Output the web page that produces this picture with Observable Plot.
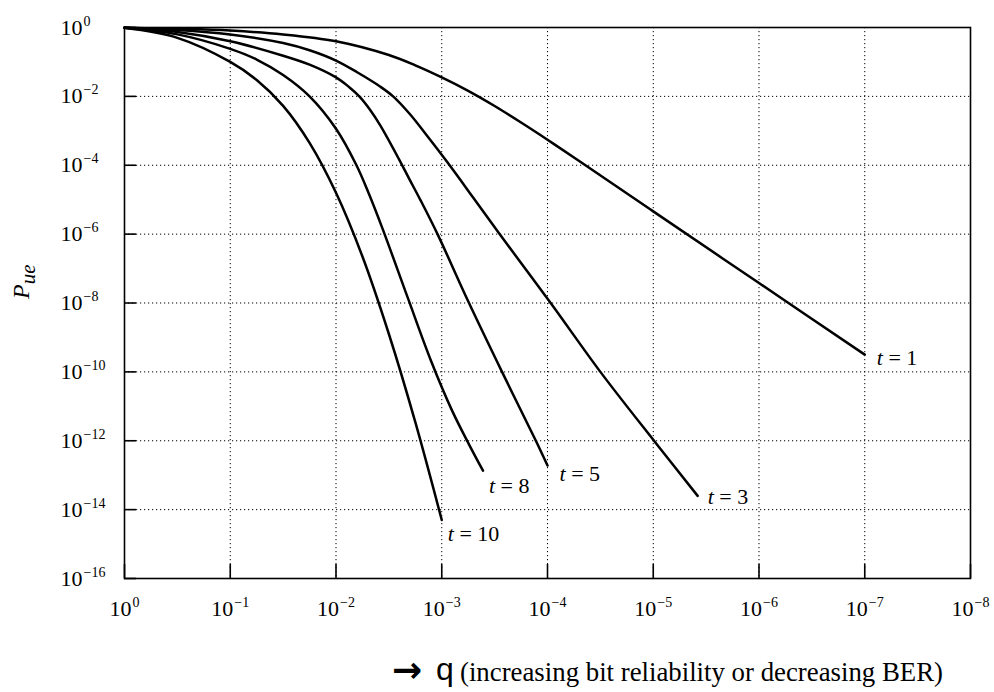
<!DOCTYPE html>
<html>
<head>
<meta charset="utf-8">
<script src="https://cdn.jsdelivr.net/npm/d3@7"></script>
<script src="https://cdn.jsdelivr.net/npm/@observablehq/plot@0.6"></script>
<style>
  html, body { margin: 0; padding: 0; background: #fff; }
  #wrap { position: relative; width: 994px; height: 692px; overflow: hidden; }
  #caption span { position: absolute; white-space: nowrap; line-height: 1; color: #000; }
  #caption .arrow { left: 392px; top: 652px; font-family: "DejaVu Sans", sans-serif; font-weight: bold; font-size: 36px; }
  #caption .q { left: 436px; top: 653px; font-family: "Liberation Sans", Arial, sans-serif; font-size: 32px; }
  #caption .rest { left: 460px; top: 659px; font-family: "Liberation Serif", "Times New Roman", serif; font-size: 26.8px; }
</style>
</head>
<body>
<div id="wrap">
  <div id="chart"></div>
  <div id="caption"><span class="arrow">→</span><span class="q">q</span><span class="rest">(increasing bit reliability or decreasing BER)</span></div>
</div>
<script>
// ---- data (exponents of ten) ----
const xTicks = [1, 1e-1, 1e-2, 1e-3, 1e-4, 1e-5, 1e-6, 1e-7, 1e-8];
const xTickLabels = ["10^0", "10^-1", "10^-2", "10^-3", "10^-4", "10^-5", "10^-6", "10^-7", "10^-8"];
const yTicks = [1, 1e-2, 1e-4, 1e-6, 1e-8, 1e-10, 1e-12, 1e-14, 1e-16];
const yTickLabels = ["10^0", "10^-2", "10^-4", "10^-6", "10^-8", "10^-10", "10^-12", "10^-14", "10^-16"];

// log10(q) and log10(P_ue) for each curve
const t1LogQ = [0, -0.5, -1, -1.5, -2, -2.5, -2.75, -3, -3.25, -3.5, -3.75, -4, -4.31, -5, -6, -7];
const t1LogP = [-0.01, -0.04, -0.09, -0.2, -0.4, -0.8, -1.1, -1.45, -1.84, -2.28, -2.76, -3.26, -3.9, -5.34, -7.42, -9.5];

const t3LogQ = [0, -0.5, -1, -1.5, -1.75, -2, -2.2, -2.42, -2.54, -2.7, -2.85, -3.05, -3.3, -3.54, -4.03, -4.5, -5.02, -5.42];
const t3LogP = [-0.01, -0.07, -0.2, -0.45, -0.66, -0.96, -1.3, -1.72, -2.0, -2.52, -3.1, -3.9, -4.95, -5.97, -8.0, -10.0, -12.05, -13.6];

const t5LogQ = [0, -0.5, -1, -1.5, -1.75, -2, -2.12, -2.22, -2.32, -2.42, -2.6, -2.69, -2.8, -2.96, -3.25, -3.57, -3.89, -4.0];
const t5LogP = [-0.01, -0.13, -0.4, -0.82, -1.08, -1.45, -1.72, -2.0, -2.38, -2.85, -3.85, -4.38, -5.02, -6.0, -7.95, -10.0, -12.0, -12.72];

const t8LogQ = [0, -0.5, -1, -1.25, -1.5, -1.75, -2.0, -2.19, -2.31, -2.44, -2.68, -2.9, -3.1, -3.25, -3.39];
const t8LogP = [-0.01, -0.2, -0.62, -0.93, -1.38, -2.0, -2.94, -3.98, -4.82, -5.84, -7.86, -9.69, -11.14, -12.06, -12.87];

const t10LogQ = [0, -0.5, -1, -1.25, -1.5, -1.75, -2, -2.25, -2.5, -2.75, -3.0];
const t10LogP = [-0.01, -0.3, -1.0, -1.525, -2.275, -3.35, -4.8, -6.65, -8.9, -11.46, -14.3];

const tValues = [1, 3, 5, 8, 10];
const curveLabels = ["t = 1", "t = 3", "t = 5", "t = 8", "t = 10"];
const yAxisLabel = "P_ue";

// ---- styling (offsets of curve labels, in px) ----
const labelStyle = [
  {dx: 12, dy: 3}, {dx: 10, dy: 1}, {dx: 12, dy: 8}, {dx: 6, dy: 15}, {dx: 6, dy: 14}
];

const seriesLog = [[t1LogQ, t1LogP], [t3LogQ, t3LogP], [t5LogQ, t5LogP], [t8LogQ, t8LogP], [t10LogQ, t10LogP]];
const rows = seriesLog.flatMap(([lq, lp], s) => lq.map((v, i) => ({t: tValues[s], q: 10 ** v, P: 10 ** lp[i]})));
const ends = seriesLog.map(([lq, lp], s) => ({t: tValues[s], label: curveLabels[s], q: 10 ** lq[lq.length - 1], P: 10 ** lp[lp.length - 1]}));

const xLab = new Map(xTicks.map((v, i) => [v, xTickLabels[i]]));
const yLab = new Map(yTicks.map((v, i) => [v, yTickLabels[i]]));

const W = 994, H = 640, ML = 124, MR = 24, MT = 27, MB = 62;
const frameW = W - ML - MR, frameH = H - MT - MB;
const serif = "'Liberation Serif', 'Times New Roman', serif";

const marks = [
  Plot.gridX(xTicks.slice(1, -1), {stroke: "black", strokeOpacity: 1, strokeWidth: 1, strokeDasharray: "1.2,2.8"}),
  Plot.gridY(yTicks.slice(1, -1), {stroke: "black", strokeOpacity: 1, strokeWidth: 1, strokeDasharray: "1.2,2.8"}),
  Plot.tickX(xTicks, {x: d => d, insetTop: frameH - 14, stroke: "black", strokeWidth: 1.6}),
  Plot.tickY(yTicks, {y: d => d, insetRight: frameW - 12, stroke: "black", strokeWidth: 1.6}),
  Plot.frame({stroke: "black", strokeWidth: 1.6}),
  Plot.axisX(xTicks, {tickSize: 0, tickPadding: 22, tickFormat: d => xLab.get(d), fontSize: 22, label: null, fill: "black"}),
  Plot.axisY(yTicks, {tickSize: 0, tickPadding: 64, textAnchor: "start", tickFormat: d => yLab.get(d), fontSize: 22, label: null, fill: "black"}),
  Plot.line(rows, {x: "q", y: "P", z: "t", stroke: "black", strokeWidth: 2.5, curve: "catmull-rom"}),
  ...ends.map((e, i) => Plot.text([e], {x: "q", y: "P", text: "label", textAnchor: "start", dx: labelStyle[i].dx, dy: labelStyle[i].dy, fontSize: 22, fill: "black"})),
  Plot.text([yAxisLabel], {text: d => d, frameAnchor: "left", rotate: -90, dx: -103, dy: -4, fontSize: 24, fontStyle: "italic", fill: "black"})
];

const chart = Plot.plot({
  width: W, height: H,
  marginLeft: ML, marginRight: MR, marginTop: MT, marginBottom: MB,
  x: {type: "log", domain: [1, 1e-8], label: null},
  y: {type: "log", domain: [1e-16, 1], label: null},
  style: {fontFamily: serif, background: "white", color: "black", overflow: "visible"},
  marks
});
document.getElementById("chart").appendChild(chart);

// ---- rich text: superscripts, italic t, subscript ----
const NS = "http://www.w3.org/2000/svg";
function tspan(txt, attrs) {
  const t = document.createElementNS(NS, "tspan");
  t.textContent = txt;
  for (const k in attrs) t.setAttribute(k, attrs[k]);
  return t;
}
chart.querySelectorAll("text").forEach(el => {
  const s = el.textContent;
  let m;
  if ((m = /^(\d+)\^(-?\d+)$/.exec(s))) {
    el.textContent = "";
    el.appendChild(tspan(m[1], {}));
    el.appendChild(tspan(m[2].replace("-", "\u2212"), {"font-size": 14, dy: -9, dx: 1}));
  } else if ((m = /^t( = \d+)$/.exec(s))) {
    el.textContent = "";
    el.appendChild(tspan("t", {"font-style": "italic"}));
    el.appendChild(tspan(m[1], {}));
  } else if (s === yAxisLabel) {
    const [base, sub] = s.split("_");
    el.textContent = "";
    el.appendChild(tspan(base, {}));
    el.appendChild(tspan(sub, {"font-size": 21, dy: 6}));
  }
});
</script>
</body>
</html>
